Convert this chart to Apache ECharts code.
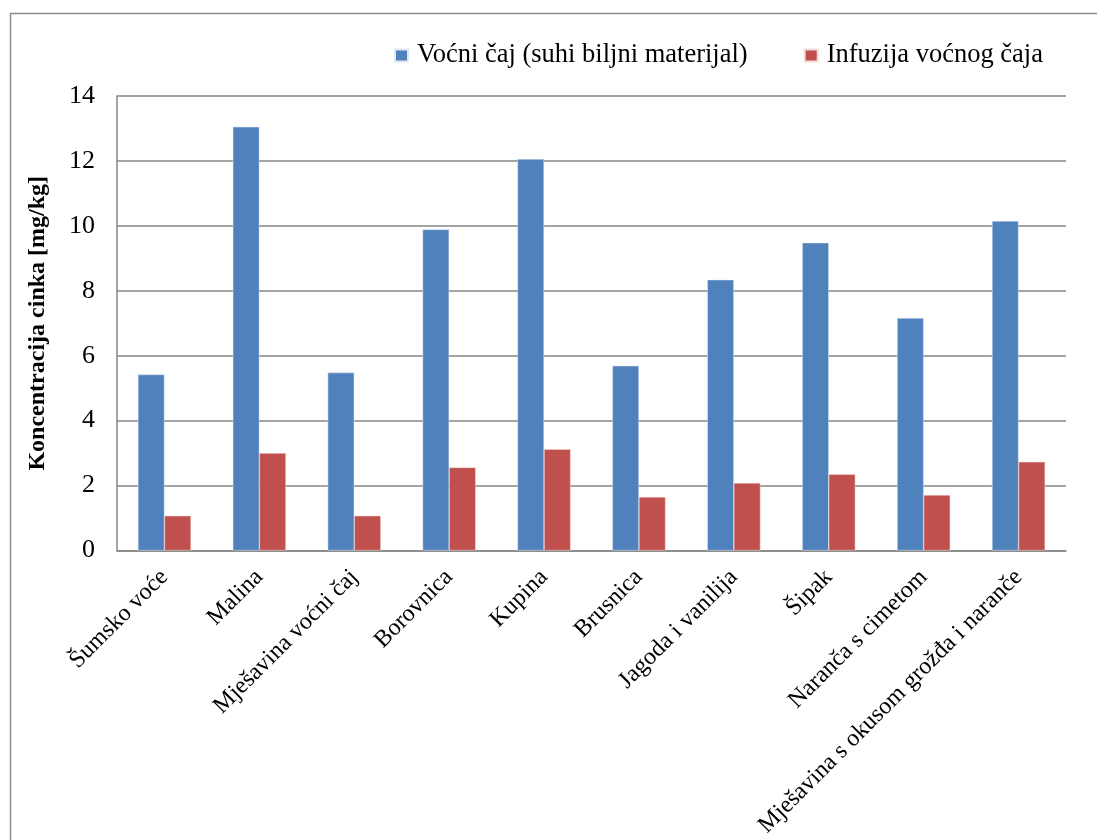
<!DOCTYPE html>
<html>
<head>
<meta charset="utf-8">
<script src="https://cdn.jsdelivr.net/npm/echarts@6/dist/echarts.min.js"></script>
<style>
html,body{margin:0;padding:0;background:#fff;}
#main{width:1097px;height:840px;}
</style>
</head>
<body>
<div id="main"></div>
<script>
const categories = ["Šumsko voće","Malina","Mješavina voćni čaj","Borovnica","Kupina","Brusnica","Jagoda i vanilija","Šipak","Naranča s cimetom","Mješavina s okusom grožđa i naranče"];
const seriesNames = ["Voćni čaj (suhi biljni materijal)","Infuzija voćnog čaja"];
const dryTea = [5.42, 13.05, 5.48, 9.89, 12.06, 5.69, 8.34, 9.48, 7.16, 10.15];
const infusion = [1.07, 3.00, 1.07, 2.56, 3.12, 1.65, 2.08, 2.35, 1.71, 2.73];
const yTicks = {min: 0, max: 14, interval: 2};
const yTitle = "Koncentracija cinka [mg/kg]";

const FONT = "'Liberation Serif', 'Times New Roman', serif";
const chart = echarts.init(document.getElementById('main'), null, {renderer:'canvas'});
chart.setOption({
  animation: false,
  backgroundColor: '#ffffff',
  textStyle: {fontFamily: FONT},
  graphic: [{
    type: 'rect', left: 8, top: 11, z: -1,
    shape: {width: 1200, height: 1000},
    style: {fill: 'none', stroke: '#8c8c8c', lineWidth: 1.5}
  }],
  legend: {
    left: 394, top: 42, padding: 0,
    itemWidth: 13, itemHeight: 12, itemGap: 56,
    textStyle: {fontFamily: FONT, fontSize: 26.5, color: '#000', padding: [0,0,0,4]},
    data: seriesNames.map(n => ({name: n, icon: 'rect'}))
  },
  grid: {left: 117, right: 31, top: 96, bottom: 288, containLabel: false},
  xAxis: {
    type: 'category',
    data: categories,
    axisLine: {show: true, lineStyle: {color: '#868686', width: 1.5}},
    axisTick: {show: false},
    axisLabel: {interval: 0, rotate: 45, margin: 23, fontFamily: FONT, fontSize: 24, color: '#000'}
  },
  yAxis: {
    type: 'value',
    min: yTicks.min, max: yTicks.max, interval: yTicks.interval,
    name: yTitle,
    nameLocation: 'middle',
    nameGap: 67,
    nameTextStyle: {fontFamily: FONT, fontSize: 24, fontWeight: 'bold', color: '#000'},
    axisLine: {show: true, lineStyle: {color: '#868686', width: 1.5}},
    axisTick: {show: false},
    axisLabel: {margin: 22, fontFamily: FONT, fontSize: 26, color: '#000'},
    splitLine: {show: true, lineStyle: {color: '#868686', width: 1.5}}
  },
  series: [
    {name: seriesNames[0], type: 'bar', data: dryTea, barGap: '0%', barCategoryGap: '44%',
     itemStyle: {color: '#4F81BD', borderColor: '#dfe7f2', borderWidth: 0.5}},
    {name: seriesNames[1], type: 'bar', data: infusion, barGap: '0%', barCategoryGap: '44%',
     itemStyle: {color: '#C0504D', borderColor: '#f2dcdb', borderWidth: 0.5}}
  ]
});
</script>
</body>
</html>
